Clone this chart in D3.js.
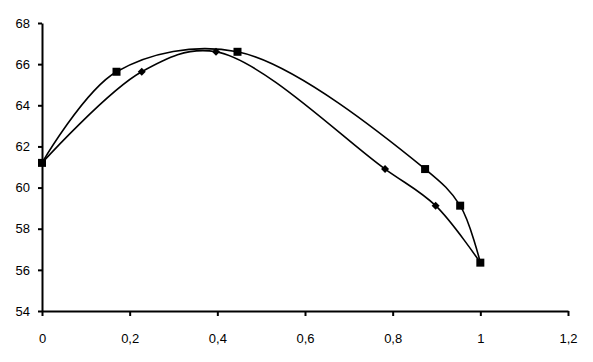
<!DOCTYPE html>
<html>
<head>
<meta charset="utf-8">
<script src="https://cdn.jsdelivr.net/npm/d3@7"></script>
<style>
  body { margin: 0; background: #fff; }
  svg { display: block; }
  .tick text { font-family: "Liberation Sans", Arial, sans-serif; font-size: 13px; fill: #000; }
</style>
</head>
<body>
<svg id="chart" width="593" height="362"></svg>
<script>
const width = 593;
const height = 362;
const margin = { top: 23, right: 25, bottom: 51, left: 42 };

// Series with square markers
const squareX = [0, 0.17, 0.446, 0.874, 0.954, 1.0];
const squareY = [61.2, 65.63, 66.6, 60.9, 59.12, 56.35];

// Series with diamond markers
const diamondX = [0, 0.2275, 0.397, 0.7826, 0.898, 1.0];
const diamondY = [61.2, 65.63, 66.6, 60.9, 59.12, 56.35];

const xTicks = [0, 0.2, 0.4, 0.6, 0.8, 1, 1.2];
const yTicks = [54, 56, 58, 60, 62, 64, 66, 68];

const svg = d3.select("#chart");

const xScale = d3.scaleLinear()
  .domain([0, 1.2])
  .range([margin.left, width - margin.right]);

const yScale = d3.scaleLinear()
  .domain([54, 68])
  .range([height - margin.bottom, margin.top]);

const fmt = d => String(d).replace(".", ",");

// X-Axis
svg.append("g")
  .attr("transform", `translate(0, ${height - margin.bottom})`)
  .call(d3.axisBottom(xScale).tickValues(xTicks).tickFormat(fmt).tickSize(5).tickPadding(18).tickSizeOuter(0));

// Y-Axis
svg.append("g")
  .attr("transform", `translate(${margin.left}, 0)`)
  .call(d3.axisLeft(yScale).tickValues(yTicks).tickSize(4).tickPadding(8).tickSizeOuter(0));

svg.selectAll(".domain, .tick line")
  .attr("stroke", "#000")
  .attr("stroke-width", 2);

// Lines
const line = d3.line()
  .x(d => xScale(d[0]))
  .y(d => yScale(d[1]))
  .curve(d3.curveCatmullRom.alpha(0.5));

const squares = squareX.map((x, i) => [x, squareY[i]]);
const diamonds = diamondX.map((x, i) => [x, diamondY[i]]);

[squares, diamonds].forEach(data => {
  svg.append("path")
    .datum(data)
    .attr("d", line)
    .attr("fill", "none")
    .attr("stroke", "#000")
    .attr("stroke-width", 1.6);
});

// Markers
svg.selectAll(".sq")
  .data(squares)
  .enter()
  .append("rect")
  .attr("class", "sq")
  .attr("x", d => xScale(d[0]) - 4)
  .attr("y", d => yScale(d[1]) - 4)
  .attr("width", 8)
  .attr("height", 8)
  .attr("fill", "#000");

svg.selectAll(".dm")
  .data(diamonds.slice(1, -1))
  .enter()
  .append("path")
  .attr("class", "dm")
  .attr("d", d => {
    const x = xScale(d[0]), y = yScale(d[1]);
    return `M${x},${y - 4}L${x + 4},${y}L${x},${y + 4}L${x - 4},${y}Z`;
  })
  .attr("fill", "#000");
</script>
</body>
</html>
